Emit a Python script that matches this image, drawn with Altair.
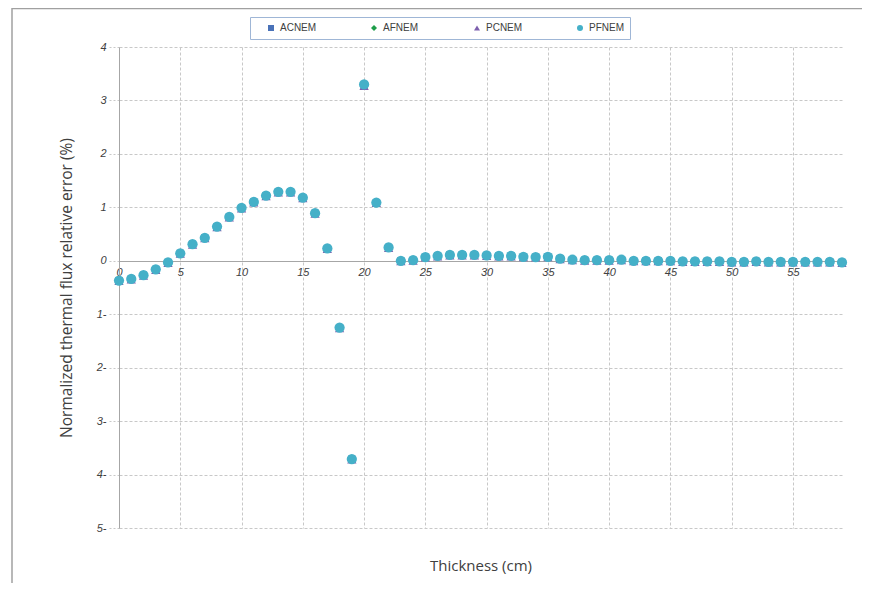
import altair as alt
import pandas as pd

thickness = list(range(60))

acnem = [-0.37, -0.34, -0.27, -0.16, -0.03, 0.14, 0.31, 0.43, 0.64, 0.82,
         0.99, 1.10, 1.22, 1.29, 1.29, 1.18, 0.89, 0.23, -1.25, -3.71,
         3.28, 1.09, 0.25, 0.00, 0.01, 0.07, 0.09, 0.11, 0.11, 0.11,
         0.10, 0.09, 0.09, 0.075, 0.07, 0.075, 0.04, 0.02, 0.01, 0.01,
         0.01, 0.02, 0.00, 0.00, 0.00, 0.00, -0.01, -0.01, -0.01, -0.01,
         -0.02, -0.02, -0.01, -0.02, -0.02, -0.02, -0.02, -0.02, -0.02, -0.03]
afnem = [-0.37, -0.34, -0.27, -0.16, -0.03, 0.14, 0.31, 0.43, 0.64, 0.82,
         0.99, 1.10, 1.22, 1.29, 1.29, 1.18, 0.89, 0.23, -1.25, -3.71,
         3.30, 1.09, 0.25, 0.00, 0.01, 0.07, 0.09, 0.11, 0.11, 0.11,
         0.10, 0.09, 0.09, 0.075, 0.07, 0.075, 0.04, 0.02, 0.01, 0.01,
         0.01, 0.02, 0.00, 0.00, 0.00, 0.00, -0.01, -0.01, -0.01, -0.01,
         -0.02, -0.02, -0.01, -0.02, -0.02, -0.02, -0.02, -0.02, -0.02, -0.03]
pcnem = [-0.38, -0.35, -0.28, -0.17, -0.04, 0.13, 0.30, 0.42, 0.63, 0.81,
         0.98, 1.09, 1.21, 1.28, 1.28, 1.17, 0.88, 0.22, -1.26, -3.72,
         3.27, 1.08, 0.24, -0.01, 0.00, 0.06, 0.08, 0.10, 0.10, 0.10,
         0.09, 0.08, 0.08, 0.065, 0.06, 0.065, 0.03, 0.01, 0.00, 0.00,
         0.00, 0.01, -0.01, -0.01, -0.01, -0.01, -0.02, -0.02, -0.02, -0.02,
         -0.03, -0.03, -0.02, -0.03, -0.03, -0.03, -0.03, -0.03, -0.03, -0.04]
pfnem = [-0.37, -0.34, -0.27, -0.16, -0.03, 0.14, 0.31, 0.43, 0.64, 0.82,
         0.99, 1.10, 1.22, 1.29, 1.29, 1.18, 0.89, 0.23, -1.25, -3.71,
         3.30, 1.09, 0.25, 0.00, 0.01, 0.07, 0.09, 0.11, 0.11, 0.11,
         0.10, 0.09, 0.09, 0.075, 0.07, 0.075, 0.04, 0.02, 0.01, 0.01,
         0.01, 0.02, 0.00, 0.00, 0.00, 0.00, -0.01, -0.01, -0.01, -0.01,
         -0.02, -0.02, -0.01, -0.02, -0.02, -0.02, -0.02, -0.02, -0.02, -0.03]

series_names = ["ACNEM", "AFNEM", "PCNEM", "PFNEM"]
series_colors = ["#4a72b8", "#1e9e4a", "#7d5fae", "#45b0c8"]
series_shapes = ["square", "diamond", "triangle-up", "circle"]
series_sizes = [50, 105, 70, 50]

x_ticks = list(range(0, 56, 5))
y_ticks = list(range(-5, 5))

rows = []
for name, vals in zip(series_names, [acnem, afnem, pcnem, pfnem]):
    for t, v in zip(thickness, vals):
        rows.append({"Thickness": t, "Error": v, "Series": name, "SizeKey": name + " "})
df = pd.DataFrame(rows)

W, H = 723, 481
PAD_L, PAD_T = 111, 39
PAD_R = 856 - PAD_L - W
PAD_B = 575 - PAD_T - H

grid_color = "#c8c8c8"
axis_color = "#a6a6a6"
text_color = "#404040"

legend = alt.Legend(
    title=None, orient="none", legendX=131, legendY=-30, direction="horizontal",
    strokeColor="#9fb6d6", fillColor="white", padding=6, cornerRadius=0,
    labelFont="Liberation Sans", labelFontSize=10, labelColor=text_color,
    symbolSize=36, columnPadding=42, gridAlign="all", symbolOffset=10,
    labelOffset=4,
)

points = alt.Chart(df).mark_point(filled=True, opacity=1, strokeWidth=0).encode(
    x=alt.X(
        "Thickness:Q",
        scale=alt.Scale(domain=[0, 59], nice=False, zero=False),
        axis=alt.Axis(
            values=x_ticks, title="Thickness (cm)", offset=-267, titlePadding=281,
            ticks=False, domainColor=axis_color, domainWidth=1,
            grid=True, gridColor=grid_color, gridDash=[3, 2], gridWidth=1,
            labelFont="Liberation Sans", labelFontStyle="italic", labelFontSize=11,
            labelColor=text_color, labelPadding=5, labelAlign="center",
            titleFont="Open Sans", titleFontSize=15, titleFontWeight="normal",
            titleColor=text_color,
        ),
    ),
    y=alt.Y(
        "Error:Q",
        scale=alt.Scale(domain=[-5, 4], nice=False),
        axis=alt.Axis(
            values=y_ticks, title="Normalized thermal flux relative error (%)",
            labelExpr="datum.value < 0 ? abs(datum.value) + '-' : datum.label",
            tickSize=10, tickDash=[2, 2], tickColor=grid_color,
            domainColor=axis_color, domainWidth=1,
            grid=True, gridColor=grid_color, gridDash=[3, 2], gridWidth=1,
            labelFont="Liberation Sans", labelFontStyle="italic", labelFontSize=11,
            labelColor=text_color, labelPadding=3,
            titleFont="Open Sans", titleFontSize=15.5, titleFontWeight="normal",
            titleColor=text_color, titlePadding=22,
        ),
    ),
    color=alt.Color("Series:N", scale=alt.Scale(domain=series_names, range=series_colors), legend=legend),
    shape=alt.Shape("Series:N", scale=alt.Scale(domain=series_names, range=series_shapes), legend=legend),
    size=alt.Size("SizeKey:N", scale=alt.Scale(domain=[n + " " for n in series_names], range=series_sizes), legend=None),
)

frame_df = pd.DataFrame({"k": [0]})
frame_left = alt.Chart(frame_df).mark_rule(color="#a0a0a0", strokeWidth=1.5).encode(
    x=alt.value(-107), y=alt.value(-39), y2=alt.value(H + PAD_B)
)
frame_top = alt.Chart(frame_df).mark_rule(color="#a0a0a0", strokeWidth=1.5).encode(
    x=alt.value(-107), x2=alt.value(W + PAD_R - 2), y=alt.value(-38.5)
)

chart = alt.layer(frame_left, frame_top, points).properties(
    width=W, height=H,
    autosize=alt.AutoSizeParams(type="none"),
    padding={"left": PAD_L, "top": PAD_T, "right": PAD_R, "bottom": PAD_B},
    background="white",
).configure_view(stroke=None)

chart.save("out.html", embed_options={"renderer": "svg", "actions": False})
